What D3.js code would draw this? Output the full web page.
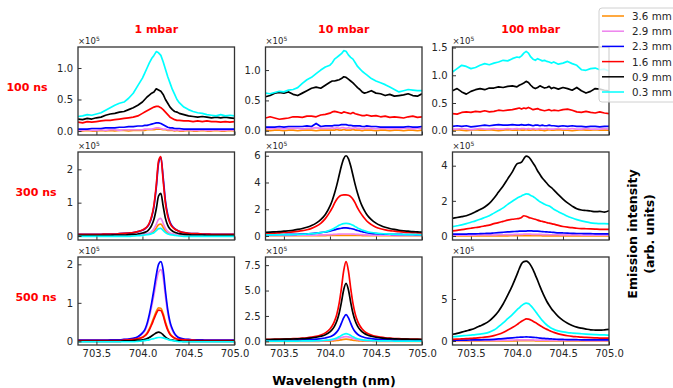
<!DOCTYPE html>
<html>
<head>
<meta charset="utf-8">
<script src="https://cdn.jsdelivr.net/npm/d3@7"></script>
<style>
body { margin: 0; background: #fff; }
svg { font-family: "DejaVu Sans", sans-serif; display: block; }
</style>
</head>
<body>
<svg id="drawing_region"></svg>
<script>
// wavelength grid (nm), finer around the line centre
const wavelength = [703.30,703.35,703.40,703.45,703.50,703.55,703.60,703.65,703.70,703.75,703.80,703.85,703.90,703.95,
  704.000,704.025,704.050,704.075,704.100,704.125,704.150,704.175,704.200,704.225,704.250,704.275,704.300,704.325,704.350,704.375,704.400,
  704.45,704.50,704.55,704.60,704.65,704.70,704.75,704.80,704.85,704.90,704.95,705.00];

const distances = ['3.6 mm', '2.9 mm', '2.3 mm', '1.6 mm', '0.9 mm', '0.3 mm'];
const delays = ['100 ns', '300 ns', '500 ns'];
const pressures = ['1 mbar', '10 mbar', '100 mbar'];
const xTicks = [703.5, 704.0, 704.5, 705.0];

// intensities in units of 1e5, one row per distance (same order as distances)
const ns100_mbar1 = [
  [0.00,0.00,0.01,0.00,0.00,0.01,0.00,0.01,0.00,0.01,0.01,0.00,0.01,0.01, 0.01,0.01,0.02,0.02,0.02,0.02,0.03,0.03,0.03,0.02,0.02,0.01,0.01,0.01,0.00,0.01,0.00, 0.00,0.01,0.00,0.00,0.01,0.00,0.00,0.01,0.00,0.00,0.01,0.00],
  [0.01,0.01,0.02,0.01,0.01,0.02,0.01,0.02,0.02,0.01,0.02,0.02,0.02,0.02, 0.02,0.03,0.03,0.03,0.03,0.04,0.05,0.05,0.04,0.03,0.03,0.02,0.02,0.02,0.01,0.02,0.01, 0.01,0.02,0.01,0.01,0.02,0.01,0.01,0.02,0.01,0.01,0.02,0.01],
  [0.03,0.03,0.03,0.04,0.04,0.04,0.05,0.05,0.05,0.06,0.06,0.07,0.07,0.08, 0.08,0.09,0.09,0.10,0.11,0.12,0.13,0.13,0.12,0.10,0.08,0.06,0.05,0.05,0.04,0.04,0.04, 0.03,0.03,0.03,0.03,0.03,0.03,0.03,0.03,0.03,0.03,0.03,0.03],
  [0.14,0.13,0.15,0.14,0.15,0.16,0.17,0.17,0.18,0.19,0.20,0.21,0.22,0.24, 0.28,0.30,0.32,0.34,0.36,0.38,0.39,0.39,0.37,0.34,0.30,0.26,0.22,0.20,0.18,0.17,0.17, 0.16,0.16,0.15,0.16,0.15,0.16,0.15,0.15,0.14,0.15,0.14,0.15],
  [0.19,0.18,0.20,0.19,0.21,0.22,0.25,0.27,0.28,0.30,0.31,0.34,0.37,0.41, 0.46,0.50,0.54,0.57,0.60,0.62,0.67,0.65,0.63,0.58,0.50,0.44,0.38,0.34,0.31,0.30,0.28, 0.26,0.24,0.23,0.22,0.23,0.22,0.21,0.22,0.21,0.22,0.21,0.20],
  [0.23,0.24,0.26,0.25,0.27,0.29,0.33,0.37,0.41,0.44,0.46,0.52,0.60,0.72, 0.84,0.92,1.00,1.08,1.15,1.20,1.26,1.24,1.20,1.10,0.98,0.86,0.76,0.66,0.58,0.50,0.45, 0.38,0.34,0.31,0.29,0.28,0.26,0.25,0.24,0.26,0.24,0.25,0.24]
];
const ns100_mbar10 = [
  [0.01,0.00,0.01,0.01,0.00,0.01,0.01,0.00,0.01,0.01,0.01,0.00,0.01,0.01, 0.01,0.01,0.01,0.02,0.01,0.01,0.02,0.01,0.01,0.01,0.02,0.01,0.01,0.01,0.00,0.01,0.01, 0.01,0.00,0.01,0.01,0.00,0.01,0.01,0.00,0.01,0.01,0.00,0.01],
  [0.04,0.03,0.04,0.04,0.03,0.04,0.04,0.04,0.03,0.04,0.04,0.05,0.04,0.04, 0.04,0.05,0.04,0.05,0.04,0.05,0.05,0.04,0.05,0.04,0.04,0.05,0.04,0.04,0.03,0.04,0.04, 0.04,0.03,0.04,0.04,0.03,0.04,0.03,0.04,0.04,0.03,0.04,0.04],
  [0.06,0.06,0.06,0.07,0.06,0.07,0.07,0.07,0.07,0.08,0.07,0.12,0.07,0.08, 0.08,0.08,0.09,0.09,0.09,0.10,0.10,0.10,0.09,0.09,0.08,0.08,0.08,0.08,0.07,0.07,0.08, 0.07,0.07,0.06,0.06,0.06,0.06,0.06,0.06,0.07,0.06,0.06,0.07],
  [0.21,0.23,0.21,0.19,0.20,0.21,0.23,0.23,0.22,0.24,0.24,0.23,0.26,0.27, 0.29,0.31,0.32,0.31,0.30,0.29,0.31,0.30,0.29,0.28,0.30,0.28,0.27,0.26,0.25,0.25,0.26, 0.24,0.25,0.23,0.24,0.22,0.23,0.22,0.21,0.23,0.24,0.22,0.23],
  [0.56,0.58,0.62,0.63,0.62,0.64,0.60,0.58,0.62,0.66,0.70,0.72,0.70,0.75, 0.80,0.82,0.82,0.83,0.84,0.86,0.89,0.88,0.85,0.82,0.79,0.75,0.71,0.68,0.64,0.62,0.63, 0.66,0.62,0.61,0.58,0.60,0.57,0.58,0.59,0.61,0.58,0.57,0.61],
  [0.62,0.61,0.63,0.65,0.64,0.67,0.68,0.71,0.78,0.84,0.88,0.94,1.00,1.05, 1.08,1.12,1.18,1.21,1.24,1.27,1.32,1.31,1.25,1.21,1.18,1.12,1.06,1.02,0.98,0.95,0.92, 0.86,0.82,0.79,0.76,0.72,0.68,0.64,0.66,0.68,0.67,0.66,0.66]
];
const ns100_mbar100 = [
  [0.01,0.02,0.01,0.00,0.01,0.02,0.01,0.01,0.02,0.01,0.00,0.01,0.02,0.01, 0.01,0.02,0.01,0.01,0.02,0.01,0.01,0.02,0.01,0.02,0.01,0.01,0.00,0.01,0.02,0.01,0.01, 0.02,0.01,0.01,0.00,0.01,0.02,0.01,0.01,0.02,0.01,0.01,0.01],
  [0.03,0.03,0.04,0.03,0.02,0.03,0.04,0.03,0.03,0.04,0.03,0.03,0.04,0.03, 0.04,0.03,0.04,0.04,0.03,0.04,0.03,0.04,0.03,0.03,0.04,0.03,0.03,0.04,0.03,0.03,0.03, 0.04,0.03,0.03,0.04,0.03,0.03,0.04,0.03,0.03,0.03,0.04,0.03],
  [0.08,0.09,0.08,0.09,0.07,0.08,0.09,0.10,0.09,0.10,0.11,0.10,0.10,0.11, 0.10,0.10,0.11,0.10,0.10,0.11,0.10,0.09,0.10,0.10,0.09,0.10,0.09,0.09,0.10,0.09,0.09, 0.08,0.09,0.08,0.09,0.08,0.08,0.07,0.08,0.08,0.07,0.08,0.08],
  [0.31,0.30,0.33,0.34,0.33,0.35,0.34,0.36,0.34,0.35,0.37,0.36,0.37,0.38, 0.40,0.41,0.39,0.41,0.40,0.42,0.40,0.38,0.39,0.40,0.38,0.37,0.36,0.37,0.38,0.36,0.37, 0.36,0.38,0.39,0.37,0.34,0.33,0.35,0.33,0.32,0.34,0.32,0.31],
  [0.72,0.76,0.70,0.66,0.71,0.74,0.76,0.74,0.77,0.77,0.79,0.78,0.80,0.81, 0.79,0.82,0.84,0.86,0.89,0.87,0.82,0.78,0.76,0.78,0.81,0.79,0.77,0.78,0.80,0.76,0.78, 0.75,0.78,0.76,0.73,0.78,0.72,0.68,0.71,0.76,0.75,0.73,0.72],
  [1.06,1.12,1.18,1.16,1.12,1.14,1.18,1.21,1.19,1.22,1.24,1.27,1.26,1.30, 1.33,1.32,1.35,1.40,1.43,1.40,1.33,1.29,1.27,1.30,1.28,1.26,1.27,1.25,1.24,1.22,1.24, 1.20,1.22,1.25,1.21,1.18,1.10,1.09,1.12,1.13,1.10,1.11,1.08]
];
const ns300_mbar1 = [
  [0.01,0.01,0.01,0.01,0.01,0.01,0.01,0.01,0.01,0.01,0.01,0.02,0.02,0.03, 0.04,0.05,0.06,0.07,0.10,0.15,0.24,0.34,0.36,0.26,0.16,0.10,0.07,0.05,0.04,0.03,0.03, 0.02,0.02,0.01,0.01,0.01,0.01,0.01,0.01,0.01,0.01,0.01,0.01],
  [0.02,0.02,0.02,0.02,0.02,0.02,0.02,0.02,0.02,0.02,0.02,0.03,0.03,0.04, 0.05,0.06,0.07,0.09,0.14,0.22,0.35,0.50,0.53,0.38,0.23,0.14,0.09,0.07,0.05,0.04,0.04, 0.03,0.03,0.02,0.02,0.02,0.02,0.02,0.02,0.02,0.02,0.02,0.02],
  [0.05,0.05,0.05,0.05,0.05,0.05,0.06,0.06,0.06,0.07,0.08,0.09,0.10,0.13, 0.17,0.21,0.27,0.37,0.56,0.88,1.45,2.18,2.36,1.76,1.05,0.64,0.41,0.29,0.22,0.17,0.14, 0.10,0.08,0.07,0.07,0.06,0.06,0.05,0.05,0.05,0.05,0.05,0.05],
  [0.05,0.05,0.05,0.05,0.05,0.05,0.06,0.06,0.06,0.07,0.08,0.09,0.10,0.13, 0.18,0.22,0.28,0.39,0.59,0.93,1.52,2.25,2.38,1.67,0.98,0.59,0.38,0.27,0.21,0.17,0.14, 0.10,0.08,0.07,0.07,0.06,0.06,0.05,0.05,0.05,0.05,0.05,0.05],
  [0.02,0.02,0.02,0.02,0.02,0.02,0.02,0.02,0.03,0.03,0.03,0.04,0.05,0.06, 0.09,0.11,0.14,0.21,0.32,0.50,0.81,1.20,1.28,0.90,0.53,0.32,0.21,0.15,0.11,0.09,0.07, 0.05,0.04,0.03,0.03,0.03,0.02,0.02,0.02,0.02,0.02,0.02,0.02],
  [-0.01,-0.01,-0.01,-0.01,-0.01,-0.01,-0.01,-0.01,-0.01,-0.01,-0.01,-0.01,0.00,0.01, 0.02,0.03,0.04,0.05,0.07,0.10,0.16,0.22,0.23,0.17,0.10,0.06,0.04,0.03,0.02,0.01,0.00, -0.01,-0.01,-0.01,-0.01,-0.01,-0.01,-0.01,-0.01,-0.01,-0.01,-0.01,-0.01]
];
const ns300_mbar10 = [
  [0.02,0.02,0.02,0.02,0.02,0.02,0.02,0.02,0.02,0.02,0.02,0.03,0.03,0.03, 0.04,0.04,0.04,0.05,0.05,0.05,0.05,0.05,0.05,0.05,0.05,0.04,0.04,0.04,0.03,0.03,0.03, 0.03,0.02,0.02,0.02,0.02,0.02,0.02,0.02,0.02,0.02,0.02,0.02],
  [0.05,0.05,0.05,0.05,0.05,0.05,0.05,0.06,0.06,0.06,0.07,0.07,0.08,0.09, 0.10,0.11,0.12,0.13,0.14,0.15,0.15,0.15,0.15,0.15,0.14,0.13,0.12,0.11,0.10,0.09,0.08, 0.07,0.07,0.06,0.06,0.06,0.05,0.05,0.05,0.05,0.05,0.05,0.05],
  [0.10,0.10,0.10,0.11,0.11,0.12,0.12,0.13,0.14,0.16,0.18,0.21,0.25,0.30, 0.36,0.41,0.46,0.51,0.55,0.58,0.60,0.60,0.59,0.56,0.52,0.47,0.41,0.36,0.32,0.28,0.25, 0.20,0.17,0.15,0.14,0.13,0.12,0.12,0.11,0.11,0.11,0.10,0.10],
  [0.20,0.21,0.22,0.24,0.26,0.28,0.31,0.35,0.40,0.47,0.57,0.72,0.95,1.30, 1.80,2.10,2.45,2.75,2.95,3.05,3.08,3.08,3.05,2.95,2.75,2.45,2.10,1.80,1.55,1.32,1.12, 0.85,0.66,0.54,0.46,0.40,0.36,0.32,0.29,0.27,0.25,0.24,0.23],
  [0.28,0.29,0.31,0.33,0.36,0.39,0.43,0.49,0.56,0.65,0.78,0.96,1.22,1.61, 2.23,2.66,3.19,3.82,4.54,5.25,5.79,6.00,5.79,5.25,4.54,3.82,3.19,2.66,2.23,1.89,1.61, 1.22,0.96,0.78,0.65,0.56,0.49,0.43,0.39,0.36,0.33,0.31,0.29],
  [0.08,0.08,0.09,0.09,0.10,0.10,0.11,0.12,0.13,0.15,0.17,0.20,0.25,0.32, 0.42,0.50,0.60,0.70,0.80,0.88,0.93,0.95,0.93,0.88,0.80,0.70,0.60,0.52,0.45,0.38,0.33, 0.26,0.21,0.18,0.16,0.14,0.13,0.12,0.11,0.10,0.10,0.10,0.09]
];
const ns300_mbar100 = [
  [0.00,0.00,0.01,0.00,0.00,0.01,0.00,0.01,0.01,0.01,0.01,0.01,0.01,0.02, 0.02,0.02,0.02,0.02,0.02,0.02,0.02,0.02,0.02,0.02,0.02,0.01,0.01,0.01,0.01,0.01,0.01, 0.01,0.01,0.00,0.01,0.00,0.00,0.01,0.00,0.00,0.01,0.00,0.00],
  [0.05,0.05,0.05,0.05,0.05,0.05,0.06,0.06,0.06,0.06,0.07,0.07,0.08,0.08, 0.09,0.09,0.09,0.10,0.10,0.10,0.10,0.09,0.09,0.09,0.09,0.08,0.08,0.08,0.07,0.07,0.07, 0.07,0.06,0.06,0.06,0.06,0.05,0.05,0.05,0.05,0.05,0.05,0.05],
  [0.10,0.10,0.11,0.11,0.12,0.12,0.13,0.14,0.15,0.17,0.19,0.21,0.23,0.25, 0.26,0.27,0.27,0.28,0.28,0.29,0.29,0.28,0.28,0.27,0.26,0.25,0.24,0.23,0.22,0.21,0.20, 0.18,0.17,0.16,0.15,0.14,0.14,0.13,0.13,0.12,0.12,0.12,0.12],
  [0.29,0.32,0.36,0.40,0.44,0.48,0.52,0.57,0.62,0.70,0.76,0.83,0.90,0.95, 0.98,1.00,1.05,1.15,1.12,1.06,1.02,0.98,0.95,0.90,0.86,0.83,0.80,0.76,0.73,0.70,0.67, 0.60,0.54,0.50,0.47,0.44,0.42,0.41,0.40,0.39,0.38,0.38,0.37],
  [1.00,1.05,1.10,1.15,1.25,1.38,1.50,1.65,1.85,2.15,2.50,2.85,3.25,3.65, 4.10,4.15,4.20,4.40,4.55,4.50,4.35,4.15,3.95,3.70,3.50,3.30,3.15,3.00,2.85,2.75,2.62, 2.35,2.10,1.88,1.70,1.55,1.48,1.45,1.42,1.38,1.40,1.36,1.44],
  [0.53,0.58,0.63,0.70,0.78,0.86,0.95,1.05,1.15,1.30,1.45,1.60,1.80,1.98, 2.15,2.22,2.28,2.35,2.40,2.38,2.30,2.25,2.15,2.05,1.95,1.88,1.80,1.75,1.70,1.62,1.52, 1.38,1.25,1.12,1.02,0.93,0.86,0.80,0.75,0.72,0.70,0.70,0.69]
];
const ns500_mbar1 = [
  [0.02,0.02,0.02,0.02,0.02,0.02,0.02,0.02,0.02,0.02,0.03,0.04,0.05,0.07, 0.11,0.15,0.22,0.33,0.47,0.63,0.78,0.87,0.86,0.72,0.50,0.32,0.20,0.13,0.09,0.06,0.05, 0.04,0.03,0.03,0.02,0.02,0.02,0.02,0.02,0.02,0.02,0.02,0.02],
  [0.03,0.03,0.03,0.03,0.03,0.03,0.03,0.03,0.03,0.03,0.05,0.06,0.07,0.11, 0.20,0.27,0.41,0.63,0.90,1.21,1.54,1.80,1.86,1.66,1.17,0.74,0.45,0.29,0.18,0.12,0.08, 0.06,0.05,0.04,0.04,0.04,0.03,0.03,0.03,0.03,0.03,0.03,0.03],
  [0.03,0.03,0.03,0.03,0.03,0.03,0.03,0.04,0.04,0.04,0.05,0.06,0.08,0.12, 0.22,0.30,0.46,0.70,1.00,1.35,1.72,2.00,2.07,1.85,1.30,0.82,0.50,0.32,0.20,0.13,0.09, 0.06,0.05,0.04,0.04,0.04,0.03,0.03,0.03,0.03,0.03,0.03,0.03],
  [0.02,0.02,0.02,0.02,0.02,0.02,0.02,0.02,0.02,0.02,0.03,0.04,0.05,0.07, 0.10,0.14,0.20,0.30,0.43,0.58,0.72,0.81,0.80,0.67,0.46,0.29,0.18,0.12,0.08,0.06,0.05, 0.04,0.03,0.03,0.02,0.02,0.02,0.02,0.02,0.02,0.02,0.02,0.02],
  [0.00,0.00,0.00,0.00,0.00,0.00,0.00,0.00,0.00,0.00,0.01,0.01,0.02,0.03, 0.04,0.05,0.07,0.10,0.14,0.18,0.22,0.24,0.22,0.17,0.11,0.07,0.04,0.03,0.02,0.01,0.01, 0.00,0.00,0.00,0.00,0.00,0.00,0.00,0.00,0.00,0.00,0.00,0.00],
  [-0.01,-0.01,-0.01,-0.01,-0.01,-0.01,-0.01,-0.01,-0.01,-0.01,-0.01,-0.01,-0.01,0.00, 0.01,0.02,0.03,0.04,0.06,0.07,0.09,0.10,0.10,0.09,0.07,0.05,0.03,0.02,0.01,0.00,-0.01, -0.01,-0.01,-0.01,-0.01,-0.01,-0.01,-0.01,-0.01,-0.01,-0.01,-0.01,-0.01]
];
const ns500_mbar10 = [
  [0.00,0.00,0.00,0.00,0.00,0.00,0.00,0.00,0.00,0.00,0.00,0.00,0.01,0.02, 0.03,0.04,0.06,0.08,0.11,0.15,0.19,0.21,0.19,0.15,0.11,0.08,0.06,0.04,0.03,0.02,0.01, 0.01,0.00,0.00,0.00,0.00,0.00,0.00,0.00,0.00,0.00,0.00,0.00],
  [0.02,0.02,0.02,0.02,0.02,0.02,0.02,0.02,0.03,0.03,0.03,0.04,0.05,0.07, 0.10,0.12,0.16,0.21,0.29,0.37,0.44,0.47,0.44,0.37,0.29,0.21,0.16,0.12,0.10,0.08,0.07, 0.05,0.04,0.03,0.03,0.03,0.02,0.02,0.02,0.02,0.02,0.02,0.02],
  [0.12,0.12,0.12,0.13,0.13,0.14,0.14,0.15,0.16,0.17,0.19,0.22,0.26,0.33, 0.45,0.55,0.70,0.93,1.28,1.79,2.33,2.62,2.33,1.79,1.28,0.93,0.70,0.55,0.45,0.38,0.33, 0.26,0.22,0.19,0.17,0.16,0.15,0.14,0.14,0.13,0.13,0.12,0.12],
  [0.20,0.20,0.21,0.22,0.23,0.25,0.26,0.28,0.31,0.35,0.41,0.49,0.62,0.83, 1.21,1.53,1.99,2.68,3.73,5.25,6.98,7.85,6.98,5.25,3.73,2.68,1.99,1.53,1.21,0.99,0.83, 0.62,0.49,0.41,0.35,0.31,0.28,0.26,0.25,0.23,0.22,0.21,0.20],
  [0.18,0.18,0.19,0.20,0.21,0.22,0.23,0.25,0.27,0.30,0.34,0.40,0.50,0.65, 0.93,1.16,1.50,2.00,2.76,3.86,5.10,5.70,5.10,3.86,2.76,2.00,1.50,1.16,0.93,0.77,0.65, 0.50,0.40,0.34,0.30,0.27,0.25,0.23,0.22,0.21,0.20,0.19,0.18],
  [0.02,0.02,0.02,0.02,0.03,0.03,0.03,0.03,0.04,0.04,0.05,0.06,0.08,0.11, 0.15,0.19,0.25,0.33,0.45,0.58,0.70,0.75,0.70,0.58,0.45,0.33,0.25,0.19,0.15,0.12,0.10, 0.08,0.06,0.05,0.04,0.04,0.03,0.03,0.03,0.02,0.02,0.02,0.02]
];
const ns500_mbar100 = [
  [0.00,0.00,0.01,0.00,0.00,0.01,0.00,0.00,0.01,0.01,0.01,0.01,0.02,0.02, 0.02,0.03,0.03,0.03,0.03,0.03,0.03,0.03,0.02,0.02,0.02,0.02,0.02,0.01,0.01,0.01,0.01, 0.01,0.01,0.00,0.01,0.00,0.00,0.01,0.00,0.00,0.01,0.00,0.00],
  [0.05,0.05,0.05,0.06,0.05,0.06,0.06,0.06,0.07,0.07,0.08,0.09,0.10,0.11, 0.12,0.12,0.13,0.13,0.13,0.13,0.12,0.12,0.11,0.11,0.10,0.10,0.09,0.09,0.08,0.08,0.08, 0.07,0.07,0.06,0.06,0.06,0.06,0.05,0.05,0.05,0.05,0.05,0.05],
  [0.10,0.10,0.11,0.11,0.12,0.13,0.14,0.15,0.17,0.20,0.24,0.28,0.33,0.38, 0.42,0.44,0.46,0.47,0.48,0.47,0.45,0.43,0.41,0.38,0.35,0.32,0.30,0.28,0.26,0.24,0.22, 0.20,0.18,0.17,0.16,0.15,0.14,0.14,0.13,0.13,0.12,0.12,0.12],
  [0.20,0.22,0.25,0.28,0.30,0.35,0.40,0.45,0.52,0.63,0.80,1.02,1.30,1.60, 1.95,2.15,2.35,2.50,2.62,2.60,2.50,2.35,2.20,2.02,1.85,1.68,1.52,1.38,1.25,1.12,1.02, 0.85,0.72,0.62,0.55,0.50,0.45,0.42,0.39,0.37,0.35,0.34,0.33],
  [0.80,0.90,1.05,1.20,1.35,1.55,1.80,2.05,2.40,2.90,3.55,4.40,5.45,6.60, 7.90,8.60,9.20,9.45,9.50,9.35,9.00,8.50,7.85,7.20,6.50,5.85,5.25,4.70,4.25,3.85,3.50, 2.90,2.45,2.10,1.85,1.65,1.52,1.42,1.33,1.30,1.28,1.32,1.38],
  [0.50,0.55,0.60,0.65,0.70,0.75,0.82,0.90,1.05,1.30,1.70,2.15,2.65,3.15, 3.70,3.95,4.20,4.40,4.50,4.45,4.20,3.90,3.55,3.15,2.80,2.45,2.15,1.90,1.70,1.52,1.38, 1.20,1.08,1.00,0.95,0.90,0.86,0.82,0.78,0.75,0.73,0.72,0.70]
];

// y tick values per panel (x1e5)
const yTicks_100ns = [0, 0.5, 1.0];
const yTicks_100ns_100mbar = [0, 0.5, 1.0, 1.5];
const yTicks_300ns_1mbar = [0, 1, 2];
const yTicks_300ns_10mbar = [0, 2, 4, 6];
const yTicks_300ns_100mbar = [0, 2, 4];
const yTicks_500ns_1mbar = [0, 1, 2];
const yTicks_500ns_10mbar = [0, 2.5, 5.0, 7.5];
const yTicks_500ns_100mbar = [0, 5];

const colors = ['darkorange', 'violet', 'blue', 'red', 'black', 'cyan'];

const config = {
    width: 673,
    height: 388,
    colLeft: [78, 265.5, 452.5],
    rowTop: [47, 152, 257],
    pw: 156.5,
    ph: 88
};

const panels = [
    {row:0, col:0, data:ns100_mbar1,   ydom:[-0.063, 1.333], ticks:yTicks_100ns,          fmt:'.1f'},
    {row:0, col:1, data:ns100_mbar10,  ydom:[-0.07, 1.38],   ticks:yTicks_100ns,          fmt:'.1f'},
    {row:0, col:2, data:ns100_mbar100, ydom:[-0.077, 1.51],  ticks:yTicks_100ns_100mbar,  fmt:'.1f'},
    {row:1, col:0, data:ns300_mbar1,   ydom:[-0.12, 2.52],   ticks:yTicks_300ns_1mbar,    fmt:'d'},
    {row:1, col:1, data:ns300_mbar10,  ydom:[-0.3, 6.28],    ticks:yTicks_300ns_10mbar,   fmt:'d'},
    {row:1, col:2, data:ns300_mbar100, ydom:[-0.23, 4.78],   ticks:yTicks_300ns_100mbar,  fmt:'d'},
    {row:2, col:0, data:ns500_mbar1,   ydom:[-0.095, 2.19],  ticks:yTicks_500ns_1mbar,    fmt:'d'},
    {row:2, col:1, data:ns500_mbar10,  ydom:[-0.36, 8.3],    ticks:yTicks_500ns_10mbar,   fmt:'.1f'},
    {row:2, col:2, data:ns500_mbar100, ydom:[-0.48, 10.0],   ticks:yTicks_500ns_100mbar,  fmt:'d'}
];

const svg = d3.select('#drawing_region')
    .attr('width', config.width)
    .attr('height', config.height);

const xscale = d3.scaleLinear()
    .domain([703.3, 705.0])
    .range([0, config.pw]);

panels.forEach((p, k) => {
    const g = svg.append('g')
        .attr('transform', `translate(${config.colLeft[p.col]}, ${config.rowTop[p.row]})`);

    const yscale = d3.scaleLinear()
        .domain(p.ydom)
        .range([config.ph, 0]);

    g.append('clipPath').attr('id', 'clip' + k)
        .append('rect')
        .attr('width', config.pw)
        .attr('height', config.ph);

    const line = d3.line()
        .x(d => xscale(d[0]))
        .y(d => yscale(d[1]))
        .curve(p.row === 0 ? d3.curveLinear : d3.curveMonotoneX);

    const lines = g.append('g').attr('clip-path', `url(#clip${k})`);
    p.data.forEach((series, j) => {
        lines.append('path')
            .attr('d', line(wavelength.map((w, i) => [w, series[i]])))
            .attr('fill', 'none')
            .attr('stroke', colors[j])
            .attr('stroke-width', 1.7)
            .attr('stroke-linejoin', 'round');
    });

    const yaxis = d3.axisLeft(yscale)
        .tickValues(p.ticks)
        .tickFormat(d3.format(p.fmt))
        .tickSize(-3.5)
        .tickPadding(5);
    const ya = g.append('g').call(yaxis);
    ya.select('.domain').remove();

    const xaxis = d3.axisBottom(xscale)
        .tickValues(xTicks)
        .tickFormat(p.row === 2 ? d3.format('.1f') : '')
        .tickSize(-3.5)
        .tickPadding(4.5);
    const xa = g.append('g')
        .attr('transform', `translate(0, ${config.ph})`)
        .call(xaxis);
    xa.select('.domain').remove();

    g.selectAll('.tick line').attr('stroke', '#333').attr('stroke-width', 1);
    g.selectAll('.tick text')
        .attr('font-family', '"DejaVu Sans", sans-serif')
        .attr('font-size', 10)
        .attr('fill', '#262626');

    g.append('rect')
        .attr('width', config.pw)
        .attr('height', config.ph)
        .attr('fill', 'none')
        .attr('stroke', '#333')
        .attr('stroke-width', 1.3);

    const off = g.append('text')
        .attr('x', 0)
        .attr('y', -3)
        .attr('font-size', 8.5)
        .attr('fill', '#262626')
        .text('×10');
    off.append('tspan')
        .attr('dy', -3)
        .attr('font-size', 6)
        .text('5');
});

// column titles
pressures.forEach((t, c) => {
    svg.append('text')
        .attr('x', config.colLeft[c] + config.pw / 2)
        .attr('y', 33)
        .attr('text-anchor', 'middle')
        .attr('font-size', 11)
        .attr('font-weight', 'bold')
        .attr('fill', 'red')
        .text(t);
});

// row titles
const rowLabelX = [27, 36, 36];
delays.forEach((t, r) => {
    svg.append('text')
        .attr('x', rowLabelX[r])
        .attr('y', config.rowTop[r] + config.ph / 2 - 4)
        .attr('text-anchor', 'middle')
        .attr('dominant-baseline', 'central')
        .attr('font-size', 11)
        .attr('font-weight', 'bold')
        .attr('fill', 'red')
        .text(t);
});

svg.append('text')
    .attr('x', 334)
    .attr('y', 385)
    .attr('text-anchor', 'middle')
    .attr('font-size', 12.7)
    .attr('font-weight', 'bold')
    .attr('fill', '#000')
    .text('Wavelength (nm)');

svg.append('text')
    .attr('transform', 'translate(632, 234) rotate(-90)')
    .attr('text-anchor', 'middle')
    .attr('dominant-baseline', 'central')
    .attr('font-size', 12.5)
    .attr('font-weight', 'bold')
    .text('Emission intensity');
svg.append('text')
    .attr('transform', 'translate(649, 234) rotate(-90)')
    .attr('text-anchor', 'middle')
    .attr('dominant-baseline', 'central')
    .attr('font-size', 12.5)
    .attr('font-weight', 'bold')
    .text('(arb. units)');

// legend
const legend = svg.append('g').attr('transform', 'translate(599, 8)');
legend.append('rect')
    .attr('width', 90)
    .attr('height', 94)
    .attr('rx', 3)
    .attr('fill', 'white')
    .attr('fill-opacity', 0.8)
    .attr('stroke', '#d0d0d0');
distances.forEach((name, j) => {
    const yy = 8 + j * 15.2;
    legend.append('line')
        .attr('x1', 3).attr('x2', 25)
        .attr('y1', yy).attr('y2', yy)
        .attr('stroke', colors[j])
        .attr('stroke-width', 1.5);
    legend.append('text')
        .attr('x', 33)
        .attr('y', yy)
        .attr('dominant-baseline', 'central')
        .attr('font-size', 10.3)
        .attr('fill', '#262626')
        .text(name);
});
</script>
</body>
</html>
